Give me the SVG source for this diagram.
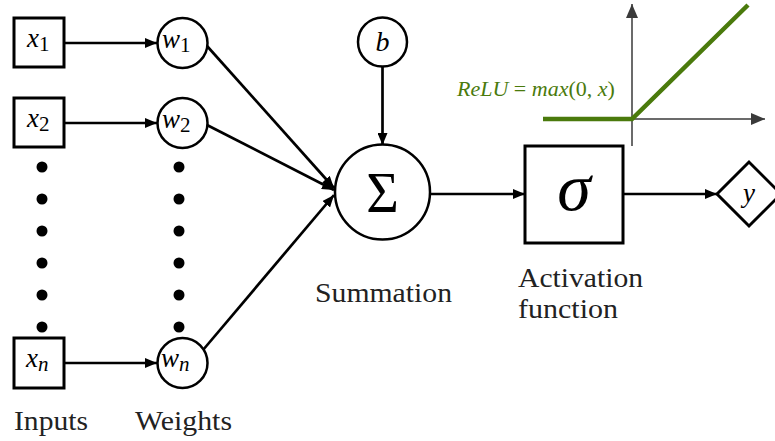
<svg xmlns="http://www.w3.org/2000/svg" width="775" height="441" viewBox="0 0 775 441">
<defs>
<marker id="arr" markerUnits="userSpaceOnUse" markerWidth="12" markerHeight="10" refX="12" refY="5" orient="auto">
<path d="M0,0 L12,5 L0,10 z" fill="#000"/>
</marker>
<marker id="garr" markerUnits="userSpaceOnUse" markerWidth="14" markerHeight="12" refX="14" refY="6" orient="auto">
<path d="M0,0 L14,6 L0,12 z" fill="#3a3a3a"/>
</marker>
<style>
.box{fill:#fff;stroke:#000;stroke-width:3}
.circ{fill:#fff;stroke:#000;stroke-width:2.5}
.edge{fill:none;stroke:#000;stroke-width:2.7;marker-end:url(#arr)}
.dot{fill:#000}
.serif{font-family:'Liberation Serif',serif}
.math{font-family:'Liberation Serif',serif;font-style:italic;fill:#000}
.up{font-style:normal}
.lbl{font-family:'Liberation Serif',serif;font-size:27px;fill:#222}
.axis{fill:none;stroke:#3a3a3a;stroke-width:1.5;marker-end:url(#garr)}
.relu{fill:none;stroke:#4a7a0c;stroke-width:4.5}
.rtxt{font-family:'Liberation Serif',serif;font-size:22px;fill:#4a7a0c}
</style>
</defs>

<g id="relu-plot">
<line class="axis" x1="632" y1="146" x2="632" y2="4"/>
<line class="axis" x1="543" y1="119" x2="765" y2="119"/>
<polyline class="relu" points="543,119 632,119 748,5"/>
<text class="rtxt" x="457" y="96"><tspan font-style="italic">ReLU</tspan> = <tspan font-style="italic">max</tspan>(0, <tspan font-style="italic">x</tspan>)</text>
</g>

<g id="connectors">
<line class="edge" x1="64" y1="43" x2="157" y2="43"/>
<line class="edge" x1="64" y1="123" x2="157" y2="123"/>
<line class="edge" x1="64" y1="363" x2="157" y2="363"/>
<line class="edge" x1="207" y1="46" x2="334" y2="188"/>
<line class="edge" x1="207" y1="125" x2="334" y2="190"/>
<line class="edge" x1="203" y1="350" x2="334" y2="195"/>
<line class="edge" x1="382.5" y1="67" x2="382.5" y2="145"/>
<line class="edge" x1="430" y1="194" x2="525" y2="194"/>
<line class="edge" x1="623" y1="194" x2="717" y2="194"/>
</g>

<g id="x1">
<rect class="box" x="14" y="18" width="50" height="49"/>
<text class="math" x="27" y="47" font-size="27">x<tspan class="up" font-size="21" dy="4">1</tspan></text>
</g>
<g id="x2">
<rect class="box" x="14" y="98" width="50" height="49"/>
<text class="math" x="27" y="127" font-size="27">x<tspan class="up" font-size="21" dy="4">2</tspan></text>
</g>
<g id="xn">
<rect class="box" x="14" y="338" width="50" height="50"/>
<text class="math" x="26" y="367" font-size="27">x<tspan font-size="21" dy="4">n</tspan></text>
</g>

<g id="w1">
<circle class="circ" cx="182.5" cy="43" r="25"/>
<text class="math" x="162" y="48" font-size="27">w<tspan class="up" font-size="21" dy="4">1</tspan></text>
</g>
<g id="w2">
<circle class="circ" cx="182.5" cy="123" r="25"/>
<text class="math" x="162" y="128" font-size="27">w<tspan class="up" font-size="21" dy="4">2</tspan></text>
</g>
<g id="wn">
<circle class="circ" cx="182.5" cy="363" r="25"/>
<text class="math" x="161" y="367" font-size="27">w<tspan font-size="21" dy="4">n</tspan></text>
</g>

<g id="input-dots">
<circle class="dot" cx="42" cy="167" r="5.5"/>
<circle class="dot" cx="42" cy="199" r="5.5"/>
<circle class="dot" cx="42" cy="231" r="5.5"/>
<circle class="dot" cx="42" cy="263" r="5.5"/>
<circle class="dot" cx="42" cy="295" r="5.5"/>
<circle class="dot" cx="42" cy="327" r="5.5"/>
</g>
<g id="weight-dots">
<circle class="dot" cx="179" cy="167" r="5.5"/>
<circle class="dot" cx="179" cy="199" r="5.5"/>
<circle class="dot" cx="179" cy="231" r="5.5"/>
<circle class="dot" cx="179" cy="263" r="5.5"/>
<circle class="dot" cx="179" cy="295" r="5.5"/>
<circle class="dot" cx="179" cy="327" r="5.5"/>
</g>

<g id="bias">
<circle class="circ" cx="382.5" cy="42" r="24.5"/>
<text class="math" x="382.5" y="51" font-size="28" text-anchor="middle">b</text>
</g>

<g id="sum">
<circle class="circ" cx="382.5" cy="192" r="47.5"/>
<text class="serif" x="382.5" y="212" font-size="56" text-anchor="middle" fill="#000">Σ</text>
</g>

<g id="activation">
<rect class="box" x="525" y="146" width="98" height="97"/>
<text class="math" x="574" y="210" font-size="68" text-anchor="middle">σ</text>
</g>

<g id="output">
<polygon class="box" points="717,194 749,162 781,194 749,226"/>
<text class="math" x="749" y="202" font-size="27" text-anchor="middle">y</text>
</g>

<g id="labels">
<text class="lbl" x="14" y="430" textLength="74" lengthAdjust="spacingAndGlyphs">Inputs</text>
<text class="lbl" x="135" y="430" textLength="97" lengthAdjust="spacingAndGlyphs">Weights</text>
<text class="lbl" x="315" y="302" textLength="137" lengthAdjust="spacingAndGlyphs">Summation</text>
<text class="lbl" x="518" y="287" textLength="125" lengthAdjust="spacingAndGlyphs">Activation</text>
<text class="lbl" x="518" y="318" textLength="100" lengthAdjust="spacingAndGlyphs">function</text>
</g>
</svg>
